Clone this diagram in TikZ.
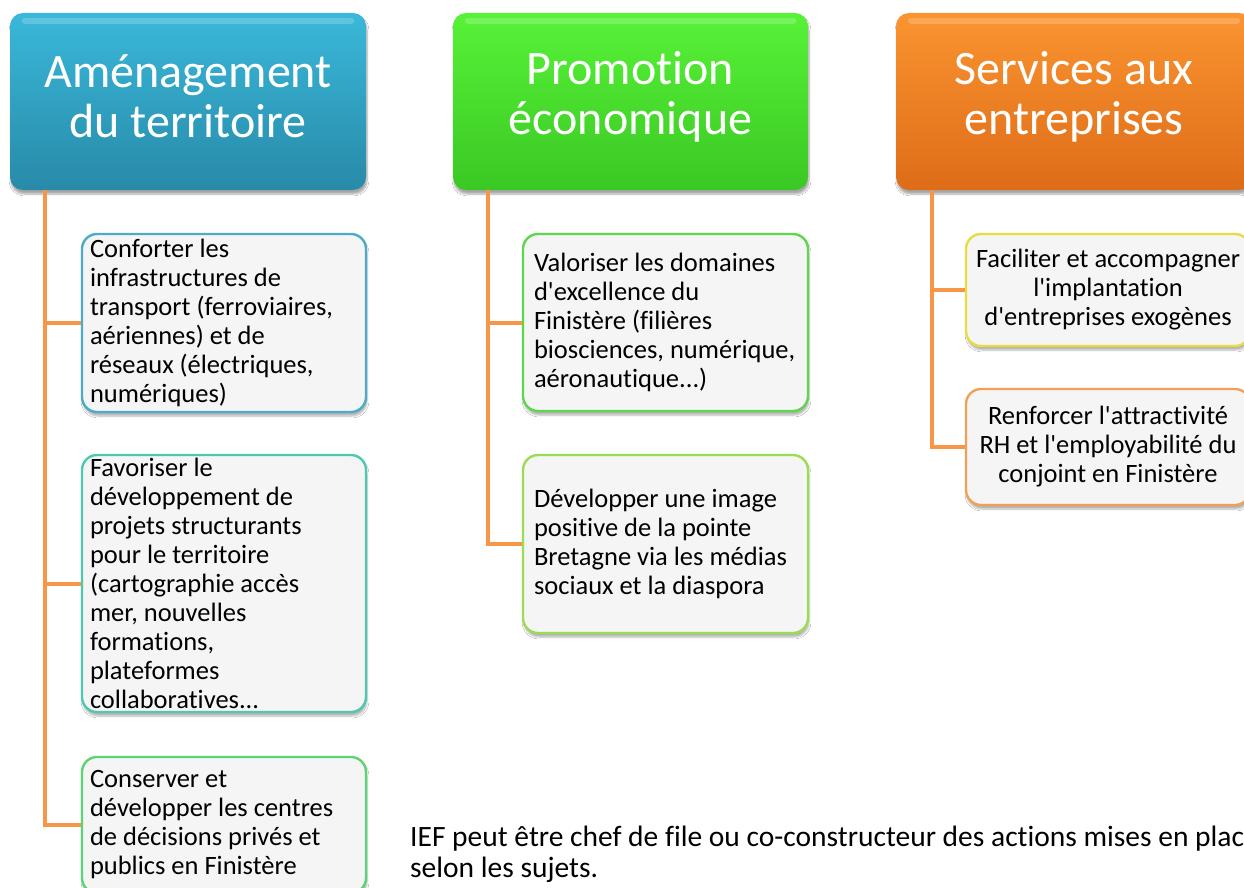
\documentclass[tikz,border=0pt]{standalone}
\usepackage{fontspec}
\setmainfont{Carlito}[Ligatures={TeXOff,CommonOff}]
\usetikzlibrary{shadows.blur}

\definecolor{linkorange}{HTML}{F79646}
\definecolor{boxfill}{HTML}{F5F5F5}
\definecolor{blueTop}{RGB}{58,184,218}
\definecolor{blueBot}{RGB}{40,138,168}
\definecolor{greenTop}{RGB}{88,242,56}
\definecolor{greenBot}{RGB}{58,200,36}
\definecolor{orangeTop}{RGB}{250,148,48}
\definecolor{orangeBot}{RGB}{222,108,24}
\definecolor{bdBlue}{HTML}{4BACC6}
\definecolor{bdTeal}{HTML}{4EC9B0}
\definecolor{bdGreen}{HTML}{5CD474}
\definecolor{bdLeaf}{HTML}{5CD84A}
\definecolor{bdLime}{HTML}{9CDC50}
\definecolor{bdYellow}{HTML}{E8DC44}
\definecolor{bdOrange}{HTML}{F2A056}

\begin{document}
\begin{tikzpicture}[x=1pt,y=-1pt,
  head/.style={rounded corners=13pt, minimum height=177pt, inner sep=0pt,
    blur shadow={shadow xshift=1pt, shadow yshift=-4pt, shadow blur steps=6, shadow opacity=35}},
  headtext/.style={text=white, align=center, inner sep=0pt, font=\fontsize{48}{50}\selectfont},
  gloss/.style={white, opacity=0.2, rounded corners=3pt},
  leaf/.style={rounded corners=15pt, fill=boxfill, line width=2.4pt,
    minimum width=284pt, inner ysep=2pt, font=\fontsize{26.5}{29}\selectfont,
    blur shadow={shadow xshift=1pt, shadow yshift=-4pt, shadow blur steps=6, shadow opacity=30}},
  leftleaf/.style={leaf, align=flush left, inner xsep=8pt, text width=268pt},
  midleaf/.style={leaf, align=flush left, inner xsep=11pt, text width=263pt, minimum width=285pt},
  ctrleaf/.style={leaf, align=flush center, inner xsep=4pt, text width=276pt},
  notetext/.style={anchor=base west, inner sep=0pt, font=\fontsize{29.5}{31}\selectfont},
  link/.style={draw=linkorange, line width=4pt}]

\useasboundingbox (0,0) rectangle (1244,888);
\clip (0,0) rectangle (1244,888);
\fill[white] (0,0) rectangle (1244,888);

% headers
\node[head, minimum width=356pt, top color=blueTop, bottom color=blueBot] (h1) at (188,101.5) {};
\node[head, minimum width=355pt, top color=greenTop, bottom color=greenBot] (h2) at (630.5,101.5) {};
\node[head, minimum width=356pt, top color=orangeTop, bottom color=orangeBot] (h3) at (1074,101.5) {};
\foreach \h in {h1,h2,h3}{
  \fill[gloss] ([xshift=12pt,yshift=-5pt]\h.north west) rectangle ([xshift=-12pt,yshift=-11pt]\h.north east);
}
\node[headtext] (h1t) at ([yshift=5pt]h1.center) {Aménagement\\du territoire};
\node[headtext] (h2t) at ([yshift=5pt]h2.center) {Promotion\\économique};
\node[headtext] (h3t) at ([yshift=5pt]h3.center) {Services aux\\entreprises};

% trunk anchors under the headers
\coordinate (t1) at (45,190);
\coordinate (t2) at (488,190);
\coordinate (t3) at (932,190);

% column 1
\node[leftleaf, draw=bdBlue, minimum height=178pt] (c1) at (224,323)
  {Conforter les\\infrastructures de\\transport (ferroviaires,\\aériennes) et de\\réseaux (électriques,\\numériques)};
\node[leftleaf, draw=bdTeal, minimum height=257pt] (c2) at (224,583.5)
  {Favoriser le\\développement de\\projets structurants\\pour le territoire\\(cartographie accès\\mer, nouvelles\\formations,\\plateformes\\collaboratives...};
\node[leftleaf, draw=bdGreen, minimum height=136pt] (c3) at (224,825)
  {Conserver et\\développer les centres\\de décisions privés et\\publics en Finistère};

% column 2
\node[midleaf, draw=bdLeaf, minimum height=177pt] (c4) at (665.5,322.5)
  {Valoriser les domaines\\d'excellence du\\Finistère (filières\\biosciences, numérique,\\aéronautique...)};
\node[midleaf, draw=bdLime, minimum height=178pt] (c5) at (665.5,544)
  {Développer une image\\positive de la pointe\\Bretagne via les médias\\sociaux et la diaspora};

% column 3
\node[ctrleaf, draw=bdYellow, minimum height=112pt] (c6) at (1108,290)
  {Faciliter et accompagner\\l'implantation\\d'entreprises exogènes};
\node[ctrleaf, draw=bdOrange, minimum height=116pt] (c7) at (1108,447)
  {Renforcer l'attractivité\\RH et l'employabilité du\\conjoint en Finistère};

% connectors
\draw[link] (t1) |- (c1.west);
\draw[link] (t1) |- (c2.west);
\draw[link] (t1) |- (c3.west);
\draw[link] (t2) |- (c4.west);
\draw[link] (t2) |- (c5.west);
\draw[link] (t3) |- (c6.west);
\draw[link] (t3) |- (c7.west);

% note
\node[notetext] (note) at (410,846)
  {IEF peut être chef de file ou co-constructeur des actions mises en place};
\node[notetext] (note2) at (410,877) {selon les sujets.};
\end{tikzpicture}
\end{document}
